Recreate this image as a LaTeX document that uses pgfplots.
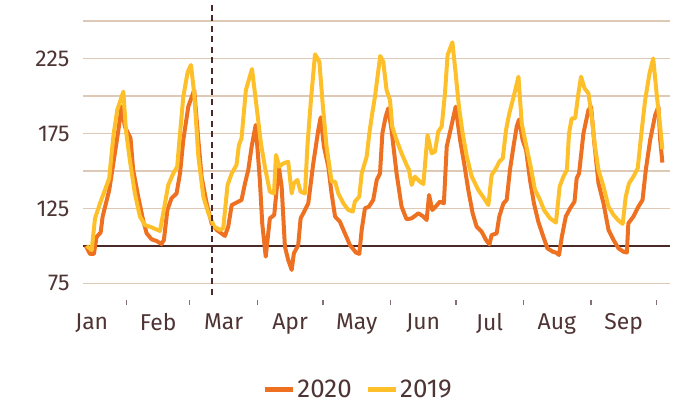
\documentclass[border=0pt]{standalone}
\usepackage{fontspec}
\setmainfont{Fira Sans}
\usepackage{pgfplots}
\pgfplotsset{compat=1.18}
\definecolor{txt}{HTML}{4F3434}
\definecolor{gridtan}{HTML}{DDC9B6}
\definecolor{darkline}{HTML}{4A2A26}
\definecolor{c2020}{HTML}{EE7122}
\definecolor{c2019}{HTML}{FEC02A}
\begin{document}
\begin{tikzpicture}
\begin{axis}[
  name=ax,
  scale only axis, width=587bp, height=290bp,
  xmin=12, xmax=281.2, ymin=67.3, ymax=260.7,
  axis line style={draw=none},
  /pgf/number format/assume math mode=true,
  ytick={75,100,125,150,175,200,225,250},
  yticklabels={75,,125,,175,,225,},
  ymajorgrids, major grid style={color=gridtan, line width=1.5bp},
  ytick style={draw=none},
  yticklabel style={font=\fontsize{23}{26}\selectfont, text=txt, xshift=-10bp},
  xtick={16,46.5,76.5,107,137.5,168,198.5,229.3,260},
  xticklabels={Jan,Feb,Mar,Apr,May,Jun,Jul,Aug,Sep},
  major tick length=0pt,
  xticklabel style={font=\fontsize{23}{26}\selectfont, text=txt, yshift=-15bp},
  clip=false,
  legend style={at={(0.469,-0.325)}, anchor=center, draw=none, fill=none,
    legend columns=-1, font=\fontsize{26}{30}\selectfont, text=txt,
    /tikz/every even column/.append style={column sep=12bp}},
  legend image code/.code={\draw[#1, line width=4.5bp] (0bp,0bp) -- (28bp,0bp);},
]
\draw[darkline, line width=2.5bp] (axis cs:12,100) -- (axis cs:281.2,100);
\pgfplotsinvokeforeach{32,61,92,122,153,183,214,245,275}{
  \draw[txt!70, line width=1.3bp] ([yshift=-5bp]axis cs:#1,67.3) -- ([yshift=-9.5bp]axis cs:#1,67.3);
}
\addplot[c2020, line width=4bp, line join=round] coordinates {
(13.3,100) (15.2,94.7) (17,94.7) (18.2,106) (20.1,109) (21,119.6) (24,137) (25.9,155)
(28.2,177) (29.7,193) (31.2,179.6) (33.8,171.8) (35,150.7) (37.3,133) (39.6,117)
(41.2,108.4) (43.5,104.4) (45.8,103.3) (48,101.3) (49.1,104) (50.7,124) (52.6,131.8)
(54.9,135) (56.5,148.4) (58,170.7) (60.3,193) (63,204) (64.9,170.7) (66.4,146)
(68.7,128.4) (71,115) (73.3,110.7) (77.1,106.7) (78.6,112.9) (80.2,127.3) (82.4,128.9)
(84.7,130.7) (86.3,141.8) (87.8,150.7) (89.3,166) (91.2,180.7) (93.1,144) (94.2,115)
(95.8,92.9) (97.7,118.4) (99.7,120.7) (101.8,152.9) (103.1,139.6) (104.6,99.6)
(106.1,90.7) (107.7,84) (108.7,95) (110.7,100.7) (111.8,118.4) (113.8,124) (115.3,128.4)
(117.6,155) (119.9,177.3) (121,185.8) (122.5,166.2) (124.5,152.9) (126,135) (127.6,119.6)
(129.8,116.2) (132.1,108.4) (134.4,100.7) (137.2,95.6) (138.7,94.7) (139.8,110.7)
(141.3,125.1) (143.1,126.2) (145.1,130.7) (146.7,144) (148.2,148.4) (149.3,175.1)
(150.8,186.2) (152,191.8) (153.5,177.3) (155.8,148.4) (158.1,126.2) (160.4,117.8)
(162.7,118.4) (165.8,121.8) (168.1,119.6) (169.6,117.3) (170.7,134) (172.2,124)
(173.7,126.2) (175.7,129.6) (177.5,128.4) (178.8,166.2) (180.7,178.4) (182.9,192.9)
(184.9,171) (186.8,155) (188.7,137.3) (190.7,121.8) (192.5,112.9) (194.8,109.6)
(196.8,104) (198.4,101.1) (199.4,107.3) (201.7,108.4) (202.9,119.6) (204.8,128.4)
(206.3,130.7) (207.8,150.7) (209.4,166.2) (210.9,179.6) (212,184.4) (213.6,170.7)
(215.2,164) (217,144) (218.8,128.4) (220.8,116.2) (223.1,106.2) (225,98.4) (227.4,96.2)
(229,95.5) (230.3,94) (231.6,106.2) (233.4,119.6) (235.4,125.1) (237.4,129.6)
(238.4,145.1) (239.5,148.4) (241.5,175.1) (243.8,190.7) (245,192.9) (246.5,168.4)
(248.4,141.8) (250.7,128.4) (253,110.7) (255.3,104) (257.6,98.4) (259.8,96.2)
(261.4,95.6) (262.1,115.1) (264.4,119.6) (266.7,126.2) (268.6,130.7) (270.1,150.7)
(272.1,170.7) (274.4,187.3) (275.9,192.9) (276.7,170.7) (277.7,155.6)
};
\addlegendentry{2020}
\addplot[c2019, line width=4bp, line join=round] coordinates {
(13.7,100) (16,97.3) (17.5,118.4) (19.8,128.4) (24,145) (25.9,173) (27.7,190.7)
(30.5,202.9) (31.7,177) (33.5,157) (35.8,135) (38.1,119.6) (40.4,114) (43.5,112.4)
(47.3,110) (49.6,128.4) (51.1,140.7) (53.4,148.4) (55.2,152.9) (56.2,170) (58,199.6)
(60,216) (61.5,220.7) (63,201.8) (64.9,159.6) (67.2,132.9) (69.5,121.8) (72.2,112.9)
(74.8,110.7) (76.3,111.8) (78.3,140.7) (80.2,148.4) (82.4,154) (83.5,167.3) (84.7,171.8)
(86.7,204) (89.5,218) (91.6,192.9) (93.6,168.4) (95.4,152.9) (97.7,136.2) (99.6,135)
(100.5,160.7) (102,152.9) (103.8,155) (106.1,156.2) (107.7,135) (108.7,141.8)
(110.3,144) (111.8,136.2) (113.8,135) (114.9,166.2) (116.4,195) (118.4,227.8)
(120.4,222.9) (121.9,195) (123.7,166.2) (126,142.9) (127.6,142.9) (129.1,135)
(131.4,128.4) (133.7,124) (135.7,122.9) (136.7,129.6) (138.7,132.9) (139.8,148.4)
(142.1,159.6) (143.3,175) (144.4,186.2) (145.9,199.6) (148.3,226.7) (149.7,222.9)
(151.2,204) (152.8,197.3) (153.8,179.6) (155.8,170.7) (158.1,161.8) (160.4,154)
(161.5,150.7) (162.7,140.7) (164.2,146.2) (166.5,142.9) (168.1,141.3) (170,174)
(171.9,161.8) (173.4,162.9) (174.9,176.2) (176.5,179.6) (178,201.8) (179.2,227.3)
(181.4,235.8) (182.9,215.1) (184.4,192.9) (186.1,175.1) (188,159.6) (190.3,146.2)
(193.3,137.3) (195.9,131.8) (197.9,127.3) (199.4,147.3) (201.4,151.8) (202.9,156.2)
(204.5,158.4) (206,177.3) (207.5,188.4) (209.7,200.7) (211.7,212.9) (213.2,181.8)
(214.7,170.7) (217,155.1) (219.3,137.3) (221.6,130.7) (223.4,124) (226.2,118.4)
(228.9,115.6) (230.6,139.6) (232.3,146.2) (233.9,150.7) (234.9,175.1) (236.1,185.1)
(237.7,185.1) (239.2,201.8) (240.4,212.9) (242,205.1) (243.8,201.8) (245.3,186.2)
(246.8,166.2) (248.4,150.7) (250.7,139.6) (253,126.2) (255.3,120.7) (257.6,116.9)
(259.5,114.7) (260.9,132.9) (262.4,141.8) (264.4,146.2) (266.4,151.8) (267.9,172.9)
(269.8,197.3) (271.8,215.1) (273.5,225.1) (275.2,199.6) (276.7,179.6) (277.7,164.4)
};
\addlegendentry{2019}
\draw[darkline, line width=2bp, dash pattern=on 6bp off 4.5bp] (axis cs:71.3,260.7) -- (axis cs:71.3,67.3);
\end{axis}
\pgfresetboundingbox
\path ([shift={(-83bp,-111bp)}]ax.south west) rectangle ++(675bp,406bp);
\end{tikzpicture}
\end{document}
